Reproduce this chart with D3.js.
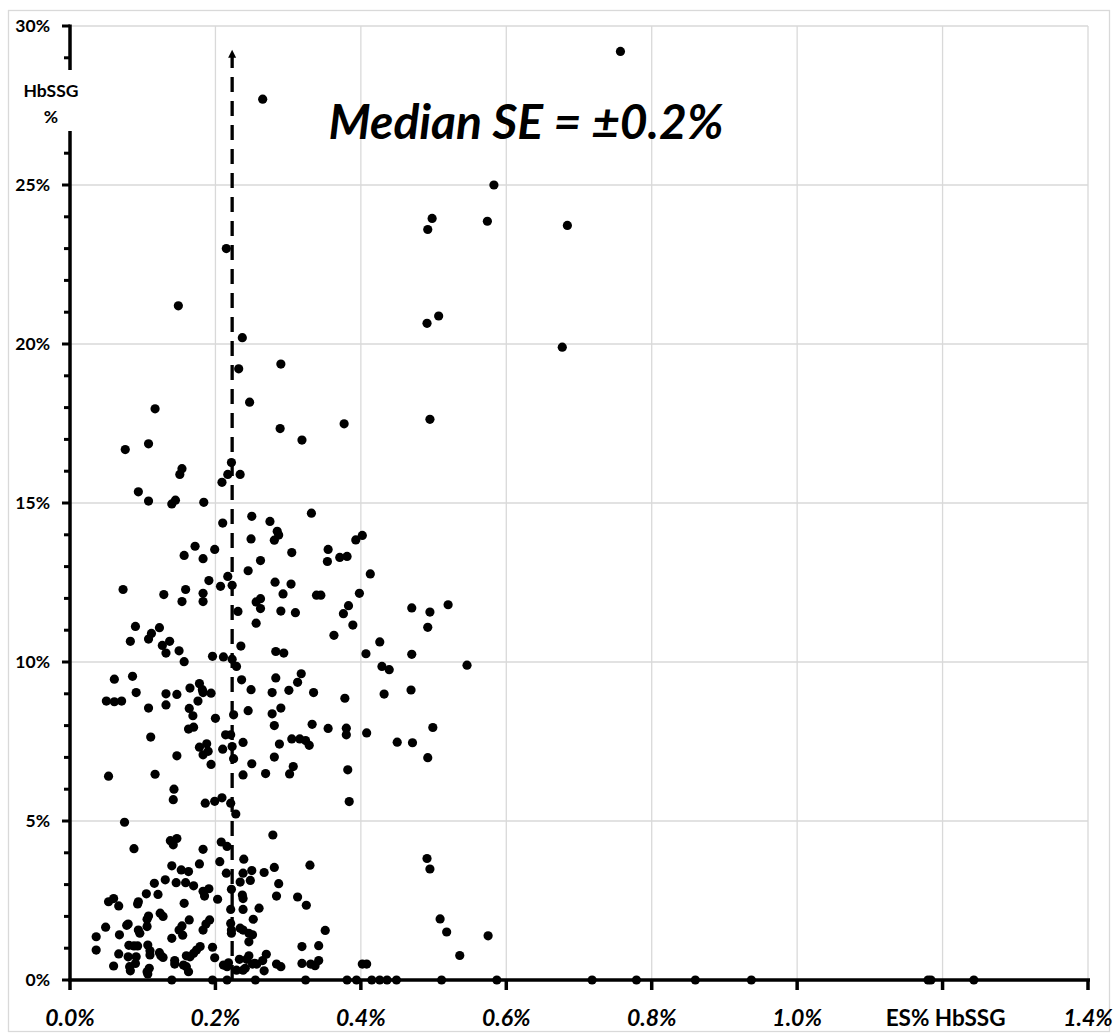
<!DOCTYPE html>
<html>
<head>
<meta charset="utf-8">
<script src="https://cdn.jsdelivr.net/npm/d3@7"></script>
<style>
  body { margin: 0; background: #fff; }
  svg text { font-family: Lato, "Open Sans", sans-serif; font-weight: bold; fill: #000; }
</style>
</head>
<body>
<svg id="chart" width="1118" height="1033"></svg>
<script>
// tick values
const xTicks = [0, 0.2, 0.4, 0.6, 0.8, 1.0, 1.2, 1.4];
const xTickLabels = ['0.0%', '0.2%', '0.4%', '0.6%', '0.8%', '1.0%', 'ES% HbSSG', '1.4%'];
const yTicks = [0, 5, 10, 15, 20, 25, 30];
const yTickLabels = ['0%', '5%', '10%', '15%', '20%', '25%', '30%'];

// median standard error (dashed line) and its top
const medianSE = 0.223;
const medianTop = 29.25;

// samples with HbSSG % = 0 (only the ES% is known)
const zeroPoints = [0.140, 0.196, 0.216, 0.255, 0.324, 0.381, 0.394, 0.415, 0.426, 0.436,
  0.449, 0.511, 0.587, 0.718, 0.779, 0.860, 0.937, 1.180, 1.184, 1.243];

// [ES% HbSSG, HbSSG %] above 15%
const highPoints = [
  [0.757, 29.2], [0.265, 27.7], [0.583, 25.0], [0.498, 23.95], [0.492, 23.6], [0.574, 23.86],
  [0.684, 23.73], [0.215, 23.0], [0.149, 21.2], [0.237, 20.2], [0.491, 20.65], [0.507, 20.88],
  [0.677, 19.9], [0.232, 19.22], [0.290, 19.37], [0.247, 18.17], [0.117, 17.96], [0.289, 17.34],
  [0.319, 16.98], [0.377, 17.49], [0.495, 17.63], [0.076, 16.68], [0.108, 16.86], [0.154, 16.08],
  [0.151, 15.90], [0.222, 16.27], [0.217, 15.90], [0.234, 15.90], [0.209, 15.65], [0.094, 15.35],
  [0.108, 15.06], [0.140, 14.97], [0.145, 15.09], [0.184, 15.02]
];

// 10% - 15%
const midHighPoints = [
  [0.250, 14.58], [0.275, 14.42], [0.332, 14.68], [0.285, 14.11], [0.287, 13.99], [0.281, 13.83],
  [0.249, 13.87], [0.305, 13.44], [0.262, 13.19], [0.245, 12.87], [0.355, 13.54], [0.354, 13.16],
  [0.371, 13.29], [0.381, 13.32], [0.393, 13.84], [0.402, 13.98], [0.413, 12.77], [0.282, 12.51],
  [0.304, 12.45], [0.293, 12.14], [0.339, 12.10], [0.345, 12.10], [0.398, 12.16], [0.256, 11.89],
  [0.262, 11.99], [0.262, 11.68], [0.290, 11.60], [0.310, 11.55], [0.231, 11.59], [0.383, 11.77],
  [0.376, 11.52], [0.256, 11.22], [0.389, 11.16], [0.363, 10.84], [0.426, 10.63], [0.470, 11.70],
  [0.495, 11.57], [0.520, 11.80], [0.492, 11.09], [0.470, 10.24], [0.235, 10.50],
  [0.210, 14.37], [0.172, 13.64], [0.157, 13.35], [0.183, 13.25], [0.199, 13.54], [0.191, 12.56],
  [0.217, 12.69], [0.207, 12.38], [0.223, 12.41], [0.073, 12.28], [0.129, 12.12], [0.159, 12.28],
  [0.154, 11.90], [0.183, 12.16], [0.183, 11.90], [0.090, 11.12], [0.123, 11.08], [0.112, 10.90],
  [0.108, 10.72], [0.083, 10.65], [0.137, 10.65], [0.127, 10.52], [0.150, 10.35],
  [0.132, 10.28], [0.157, 10.01], [0.196, 10.18], [0.211, 10.16], [0.223, 10.09],
  [0.283, 10.33], [0.294, 10.28], [0.407, 10.26]
];

// 5% - 10%
const midLowPoints = [
  [0.229, 9.86], [0.061, 9.46], [0.086, 9.55], [0.236, 9.44], [0.249, 9.13], [0.091, 9.04],
  [0.050, 8.77], [0.061, 8.75], [0.071, 8.77], [0.132, 9.00], [0.147, 8.98], [0.165, 9.18],
  [0.178, 9.32], [0.182, 9.13], [0.183, 9.04], [0.194, 9.02], [0.176, 8.77], [0.108, 8.55],
  [0.132, 8.65], [0.164, 8.54], [0.169, 8.31], [0.200, 8.23], [0.225, 8.34], [0.245, 8.47],
  [0.163, 7.89], [0.170, 7.95], [0.111, 7.64], [0.214, 7.71], [0.221, 7.71], [0.178, 7.32],
  [0.188, 7.43], [0.190, 7.19], [0.183, 7.08], [0.210, 7.26], [0.223, 7.34], [0.238, 7.47],
  [0.147, 7.05], [0.194, 6.78], [0.225, 6.96], [0.250, 6.80], [0.053, 6.41], [0.117, 6.47],
  [0.238, 6.45], [0.143, 6.00], [0.142, 5.67], [0.186, 5.56], [0.199, 5.62], [0.209, 5.73],
  [0.221, 5.56], [0.228, 5.22], [0.075, 4.96],
  [0.283, 9.50], [0.318, 9.63], [0.313, 9.36], [0.278, 9.04], [0.301, 9.11], [0.335, 9.04],
  [0.378, 8.86], [0.432, 8.99], [0.429, 9.86], [0.439, 9.76], [0.546, 9.90], [0.469, 9.12],
  [0.278, 8.37], [0.290, 8.55], [0.281, 8.00], [0.333, 8.04], [0.355, 7.91], [0.380, 7.92],
  [0.380, 7.71], [0.408, 7.77], [0.450, 7.48], [0.471, 7.46], [0.499, 7.94], [0.492, 6.99],
  [0.305, 7.58], [0.316, 7.58], [0.324, 7.53], [0.329, 7.38], [0.288, 7.42], [0.281, 7.01],
  [0.307, 6.71], [0.302, 6.48], [0.269, 6.49], [0.382, 6.61], [0.384, 5.61]
];

// 0% - 5%
const lowPoints = [
  [0.491, 3.82], [0.495, 3.49], [0.509, 1.92], [0.518, 1.51], [0.575, 1.39], [0.536, 0.77],
  [0.402, 0.50], [0.408, 0.50],
  [0.279, 4.56], [0.138, 4.38], [0.147, 4.45], [0.142, 4.25], [0.088, 4.13], [0.183, 4.11],
  [0.208, 4.34], [0.216, 4.20], [0.239, 3.80], [0.206, 3.72], [0.178, 3.65], [0.140, 3.59],
  [0.153, 3.46], [0.163, 3.41], [0.215, 3.36], [0.238, 3.36], [0.250, 3.44], [0.131, 3.15],
  [0.146, 3.06], [0.159, 3.06], [0.170, 2.96], [0.116, 3.04], [0.234, 3.08], [0.248, 3.13],
  [0.183, 2.79], [0.191, 2.87], [0.185, 2.64], [0.105, 2.71], [0.121, 2.69], [0.203, 2.54],
  [0.222, 2.85], [0.237, 2.67], [0.238, 2.56], [0.053, 2.46], [0.060, 2.56], [0.067, 2.33],
  [0.094, 2.46], [0.093, 2.39], [0.157, 2.41], [0.221, 2.22], [0.238, 2.22], [0.260, 2.26],
  [0.124, 2.10], [0.128, 2.00], [0.108, 2.01], [0.106, 1.91], [0.164, 1.89], [0.150, 1.57],
  [0.154, 1.70], [0.192, 1.89], [0.187, 1.76], [0.183, 1.57], [0.049, 1.66], [0.036, 1.36],
  [0.068, 1.42], [0.078, 1.72], [0.080, 1.76], [0.094, 1.57], [0.096, 1.47], [0.106, 1.68],
  [0.140, 1.31], [0.155, 1.41], [0.222, 1.57], [0.222, 1.47], [0.234, 1.63], [0.238, 1.57],
  [0.246, 1.47], [0.251, 1.42], [0.221, 1.78], [0.246, 1.20], [0.252, 1.91], [0.036, 0.94],
  [0.067, 0.82], [0.081, 1.09], [0.088, 1.07], [0.093, 1.07], [0.080, 0.73], [0.091, 0.73],
  [0.107, 1.10], [0.110, 0.92], [0.110, 0.79], [0.123, 0.86], [0.125, 0.76], [0.128, 0.71],
  [0.144, 0.61], [0.144, 0.50], [0.160, 0.76], [0.165, 0.73], [0.170, 0.84], [0.174, 0.94],
  [0.179, 1.05], [0.156, 0.47], [0.160, 0.42], [0.163, 0.26], [0.060, 0.44], [0.082, 0.42],
  [0.083, 0.29], [0.090, 0.52], [0.106, 0.26], [0.109, 0.37], [0.107, 0.19], [0.196, 1.03],
  [0.199, 0.70], [0.211, 0.47], [0.218, 0.54], [0.216, 0.42], [0.233, 0.65], [0.243, 0.65],
  [0.246, 0.76], [0.229, 0.31], [0.238, 0.31], [0.241, 0.37], [0.251, 0.50], [0.257, 0.50],
  [0.330, 3.61], [0.267, 3.38], [0.281, 3.54], [0.287, 3.03], [0.284, 2.64], [0.313, 2.61],
  [0.325, 2.35], [0.351, 1.56], [0.319, 1.05], [0.342, 1.08], [0.254, 0.52], [0.265, 0.61],
  [0.270, 0.81], [0.267, 0.29], [0.284, 0.50], [0.290, 0.42], [0.319, 0.52], [0.331, 0.50],
  [0.337, 0.45], [0.342, 0.61]
];

const svg = d3.select('#chart');

// plot area
const plotLeft = 70, plotRight = 1088, plotTop = 26, plotBottom = 980;

const xScale = d3.scaleLinear().domain([0, 1.4]).range([plotLeft, plotRight]);
const yScale = d3.scaleLinear().domain([0, 30]).range([plotBottom, plotTop]);

// outer frame
svg.append('rect')
    .attr('x', 8.5).attr('y', 10.5)
    .attr('width', 1101).attr('height', 1021)
    .attr('fill', 'none').attr('stroke', '#d9d9d9').attr('stroke-width', 1.3);

// gridlines
svg.append('g').selectAll('line')
    .data(xTicks.filter(d => d > 0))
    .enter().append('line')
    .attr('x1', d => xScale(d)).attr('x2', d => xScale(d))
    .attr('y1', yScale(30)).attr('y2', yScale(0))
    .attr('stroke', '#d9d9d9').attr('stroke-width', 1.3);

svg.append('g').selectAll('line')
    .data(yTicks.filter(d => d > 0))
    .enter().append('line')
    .attr('x1', xScale(0)).attr('x2', xScale(1.4))
    .attr('y1', d => yScale(d)).attr('y2', d => yScale(d))
    .attr('stroke', '#d9d9d9').attr('stroke-width', 1.3);

// y axis, broken where the axis title sits
const gapTop = 70, gapBottom = 131;
svg.append('line')
    .attr('x1', plotLeft).attr('x2', plotLeft)
    .attr('y1', yScale(0) + 1.5).attr('y2', gapBottom)
    .attr('stroke', '#000').attr('stroke-width', 3.5);
svg.append('line')
    .attr('x1', plotLeft).attr('x2', plotLeft)
    .attr('y1', gapTop).attr('y2', yScale(30) - 1.5)
    .attr('stroke', '#000').attr('stroke-width', 3.5);

// minor + major ticks on y
svg.append('g').selectAll('line')
    .data(d3.range(0, 31, 1).filter(d => yScale(d) < gapTop || yScale(d) > gapBottom))
    .enter().append('line')
    .attr('x1', d => d % 5 === 0 ? plotLeft - 8 : plotLeft - 6).attr('x2', plotLeft)
    .attr('y1', d => yScale(d)).attr('y2', d => yScale(d))
    .attr('stroke', '#000').attr('stroke-width', 3);

svg.append('g').selectAll('text')
    .data(yTicks)
    .enter().append('text')
    .attr('x', 50)
    .attr('y', d => yScale(d) + 6)
    .attr('text-anchor', 'end')
    .attr('font-size', 17.5)
    .text((d, i) => yTickLabels[i]);

svg.append('text').attr('x', 51).attr('y', 97)
    .attr('text-anchor', 'middle').attr('font-size', 17.5).text('HbSSG');
svg.append('text').attr('x', 51).attr('y', 123)
    .attr('text-anchor', 'middle').attr('font-size', 17.5).text('%');

// x axis
svg.append('line')
    .attr('x1', plotLeft - 1.5).attr('x2', plotRight + 2)
    .attr('y1', plotBottom).attr('y2', plotBottom)
    .attr('stroke', '#000').attr('stroke-width', 3.5);

svg.append('g').selectAll('line')
    .data(xTicks)
    .enter().append('line')
    .attr('x1', d => xScale(d)).attr('x2', d => xScale(d))
    .attr('y1', plotBottom).attr('y2', plotBottom + 10)
    .attr('stroke', '#000').attr('stroke-width', 3.5);

svg.append('g').selectAll('text')
    .data(xTicks)
    .enter().append('text')
    .attr('x', (d, i) => xTickLabels[i].startsWith('ES') ? xScale(d) + 3 : xScale(d))
    .attr('y', 1026)
    .attr('text-anchor', 'middle')
    .attr('font-size', (d, i) => xTickLabels[i].startsWith('ES') ? 22.5 : 23)
    .attr('font-style', (d, i) => xTickLabels[i].startsWith('ES') ? 'normal' : 'italic')
    .text((d, i) => xTickLabels[i]);

// median SE dashed line with arrow
svg.append('line')
    .attr('x1', xScale(medianSE)).attr('x2', xScale(medianSE))
    .attr('y1', yScale(0)).attr('y2', yScale(medianTop) + 5)
    .attr('stroke', '#000').attr('stroke-width', 3.3)
    .attr('stroke-dasharray', '15,9');
svg.append('path')
    .attr('d', d3.line()([
        [xScale(medianSE) - 4, yScale(medianTop) + 8],
        [xScale(medianSE), yScale(medianTop)],
        [xScale(medianSE) + 4, yScale(medianTop) + 8]
    ]) + 'Z')
    .attr('fill', '#000');

svg.append('text')
    .attr('x', 526).attr('y', 139)
    .attr('text-anchor', 'middle')
    .attr('font-size', 48)
    .attr('font-style', 'italic')
    .text('Median SE = \u00b10.2%');

// points
const allPoints = highPoints.concat(midHighPoints, midLowPoints, lowPoints,
    zeroPoints.map(x => [x, 0]));

svg.append('g').selectAll('circle')
    .data(allPoints)
    .enter().append('circle')
    .attr('cx', d => xScale(d[0]))
    .attr('cy', d => yScale(d[1]))
    .attr('r', 4.6)
    .attr('fill', '#000');
</script>
</body>
</html>
